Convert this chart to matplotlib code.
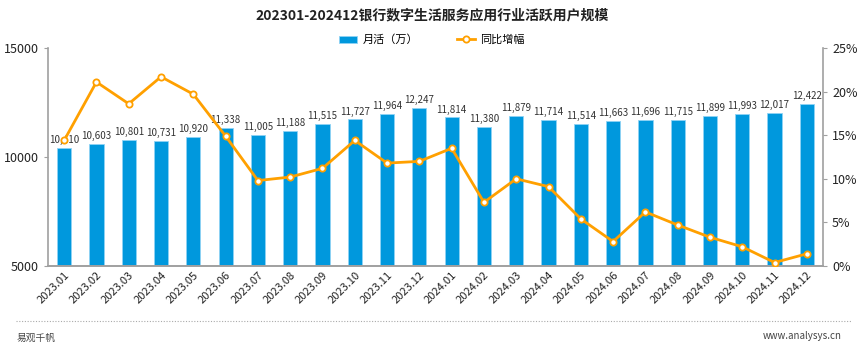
import numpy as np
import matplotlib.pyplot as plt

plt.rcParams['font.family'] = ['Noto Sans CJK SC', 'DejaVu Sans']

months = ["2023.01", "2023.02", "2023.03", "2023.04", "2023.05", "2023.06",
          "2023.07", "2023.08", "2023.09", "2023.10", "2023.11", "2023.12",
          "2024.01", "2024.02", "2024.03", "2024.04", "2024.05", "2024.06",
          "2024.07", "2024.08", "2024.09", "2024.10", "2024.11", "2024.12"]
mau = [10410, 10603, 10801, 10731, 10920, 11338, 11005, 11188, 11515, 11727, 11964, 12247,
       11814, 11380, 11879, 11714, 11514, 11663, 11696, 11715, 11899, 11993, 12017, 12422]
yoy = [14.4, 21.1, 18.6, 21.7, 19.7, 14.9, 9.8, 10.2, 11.2, 14.4, 11.8, 12.0,
       13.5, 7.3, 10.0, 9.1, 5.4, 2.8, 6.2, 4.7, 3.3, 2.2, 0.4, 1.4]

bar_color = "#0098DD"
line_color = "#FFA000"
axis_gray = "#A0A0A0"

fig = plt.figure(figsize=(8.64, 3.52), dpi=100)
ax = fig.add_axes([48 / 864, 1 - 266 / 352, 775 / 864, 218 / 352])
x = np.arange(len(months))

ax.bar(x, mau, width=0.44, color=bar_color, edgecolor="#8FD3F5",
       linewidth=0.6, label="月活（万）", zorder=2)
ax.set_ylim(5000, 15000)
ax.set_xlim(-0.5, len(months) - 0.5)
ax.set_yticks([5000, 10000, 15000])
ax.set_xticks(x)
ax.set_xticklabels(months, rotation=45, ha="right", rotation_mode="anchor", fontsize=8)
for i, v in enumerate(mau):
    ax.text(i, v + 130, f"{v:,}", ha="center", va="bottom", fontsize=7, color="#333333", zorder=5)

ax2 = ax.twinx()
ax2.plot(x, yoy, color=line_color, linewidth=2, marker="o", markersize=4.5,
         markerfacecolor="white", markeredgecolor=line_color, markeredgewidth=1.3,
         label="同比增幅", zorder=4)
ax2.set_ylim(0, 25)
ax2.set_yticks([0, 5, 10, 15, 20, 25])
ax2.set_yticklabels([f"{t}%" for t in [0, 5, 10, 15, 20, 25]])

for a in (ax, ax2):
    a.spines["top"].set_visible(False)
    for s in ("left", "right", "bottom"):
        a.spines[s].set_color(axis_gray)
        a.spines[s].set_linewidth(1.2)
    a.tick_params(axis="y", labelsize=9, colors=axis_gray, labelcolor="#222222", length=3)
ax.tick_params(axis="x", length=0, labelcolor="#222222", pad=3)
ax2.spines["left"].set_visible(False)
ax.spines["right"].set_visible(False)

# line drawn above bars
ax.set_zorder(0)
ax2.set_zorder(1)
ax2.patch.set_visible(False)

h1, l1 = ax.get_legend_handles_labels()
h2, l2 = ax2.get_legend_handles_labels()
fig.legend(h1 + h2, l1 + l2, loc="center", bbox_to_anchor=(0.5, 1 - 40 / 352), ncol=2,
           frameon=False, fontsize=8, handlelength=1.6, columnspacing=3.5, handletextpad=0.5)

fig.text(0.5, 1 - 15 / 352, "202301-202412银行数字生活服务应用行业活跃用户规模",
         ha="center", va="center", fontsize=10, fontweight="bold", color="#222222")

fig.add_artist(plt.Line2D([16 / 864, 852 / 864], [1 - 321 / 352, 1 - 321 / 352],
                          color="#AAAAAA", linewidth=0.8, linestyle=(0, (1, 1.5))))
fig.text(17 / 864, 1 - 338 / 352, "易观千帆", ha="left", va="center", fontsize=7, color="#444444")
fig.text(842 / 864, 1 - 336 / 352, "www.analysys.cn", ha="right", va="center", fontsize=7, color="#444444")

fig.savefig("out.png", dpi=100)
